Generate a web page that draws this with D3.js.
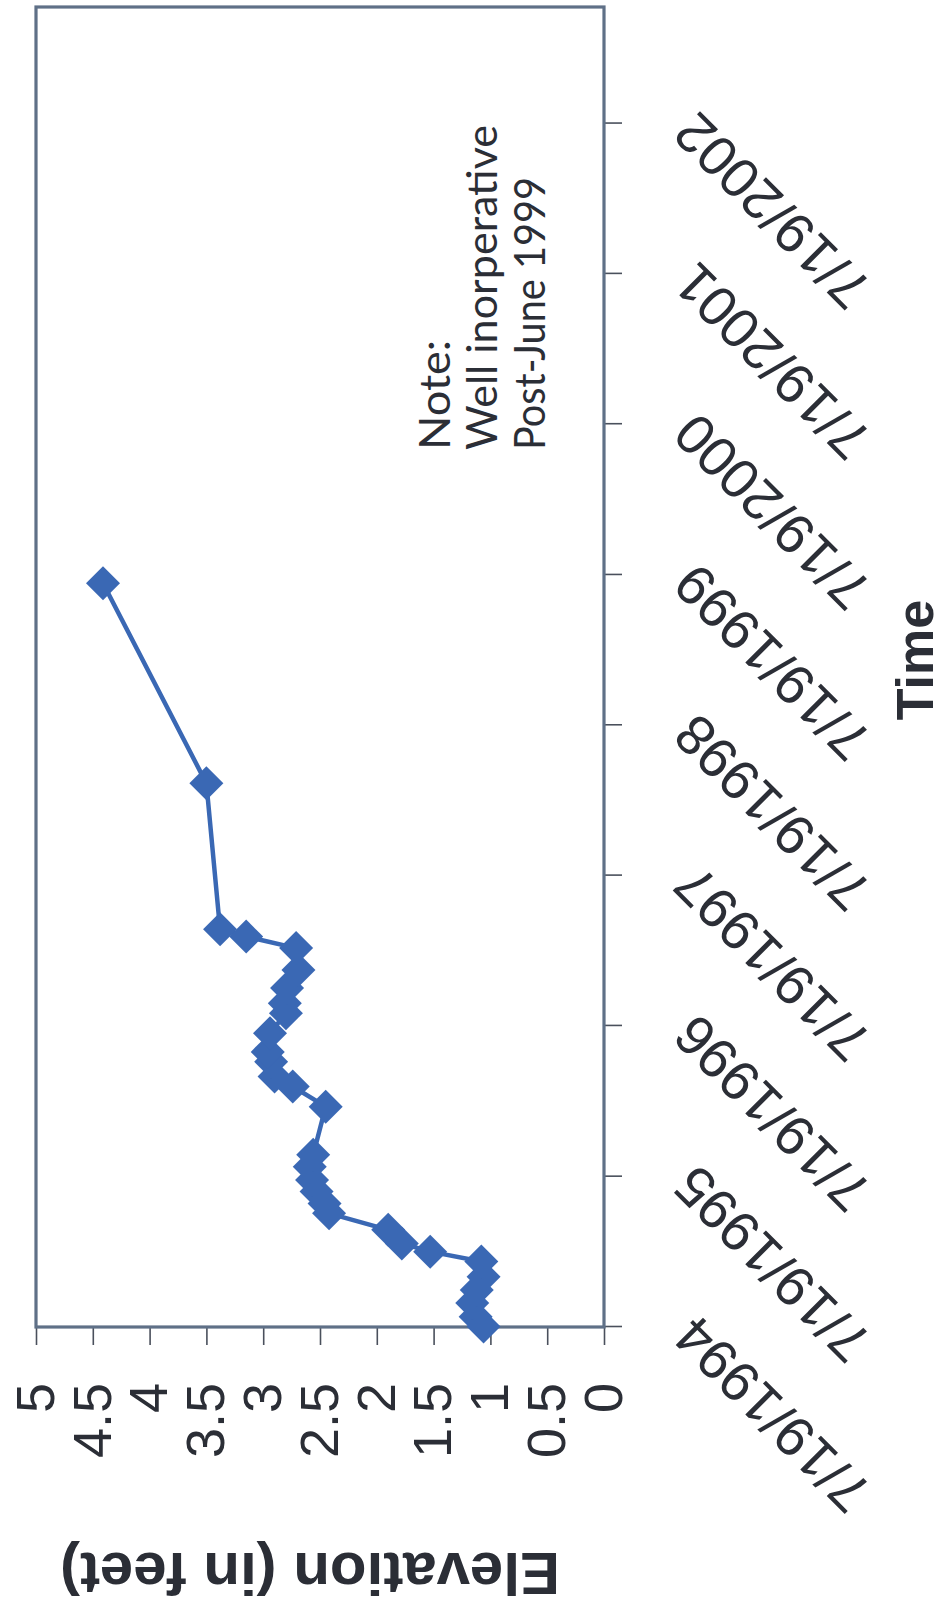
<!DOCTYPE html>
<html>
<head>
<meta charset="utf-8">
<script src="https://cdn.jsdelivr.net/npm/d3@7"></script>
<style>
  body { margin: 0; background: #ffffff; }
  svg { display: block; }
</style>
</head>
<body>
<svg id="chart" width="944" height="1610"></svg>
<script>
// ---------------- data ----------------
const sampleDates = [
  "1994-07-20", "1994-08-13", "1994-09-15", "1994-10-17", "1994-11-18",
  "1994-12-25", "1995-01-18", "1995-02-07", "1995-03-12", "1995-04-21",
  "1995-05-15", "1995-06-13", "1995-07-11", "1995-08-12", "1995-09-10",
  "1996-01-05", "1996-02-23", "1996-03-18", "1996-04-23", "1996-05-17",
  "1996-07-01", "1996-08-19", "1996-09-12", "1996-10-19", "1996-12-02",
  "1997-01-24", "1997-02-21", "1997-03-11", "1998-02-28", "1999-06-29"
];
const elevationFeet = [
  1.06, 1.13, 1.16, 1.12, 1.06,
  1.08, 1.53, 1.78, 1.90, 2.42,
  2.46, 2.53, 2.57, 2.59, 2.56,
  2.45, 2.74, 2.90, 2.93, 2.96,
  2.94, 2.80, 2.81, 2.79, 2.69,
  2.71, 3.15, 3.38, 3.50, 4.41
];
const timeTickDates = [
  "1994-07-19", "1995-07-19", "1996-07-19", "1997-07-19", "1998-07-19",
  "1999-07-19", "2000-07-19", "2001-07-19", "2002-07-19"
];
const timeTickLabels = [
  "7/19/1994", "7/19/1995", "7/19/1996", "7/19/1997", "7/19/1998",
  "7/19/1999", "7/19/2000", "7/19/2001", "7/19/2002"
];
const timeDomain = ["1994-07-19", "2003-04-28"];
const elevTicks = [0, 0.5, 1, 1.5, 2, 2.5, 3, 3.5, 4, 4.5, 5];
const elevTickLabels = ["0", "0.5", "1", "1.5", "2", "2.5", "3", "3.5", "4", "4.5", "5"];
const elevDomain = [0, 5];
const xTitle = "Time";
const yTitle = "Elevation (in feet)";
const noteLines = ["Note:", "Well inorperative", "Post-June 1999"];

// ---------------- chart ----------------
const svg = d3.select("#chart");
const parse = d3.utcParse("%Y-%m-%d");
const W = 1320, H = 568;           // unrotated plot size
const textColor = "#2b2e36";
const frameColor = "#5f7087";
const blue = "#3a68b4";
const sansFont = "'Liberation Sans', Arimo, Arial, Helvetica, sans-serif";

const data = sampleDates.map((d, i) => ({ date: parse(d), e: elevationFeet[i] }));

const x = d3.scaleUtc().domain(timeDomain.map(parse)).range([0, W]);
const y = d3.scaleLinear().domain(elevDomain).range([H, 0]);

// whole chart is drawn rotated 90° counter-clockwise
const g = svg.append("g").attr("transform", "translate(36,1327) rotate(-90)");

// time axis (appears at right side)
const xAxis = d3.axisBottom(x)
  .tickValues(timeTickDates.map(parse))
  .tickFormat((d, i) => timeTickLabels[i])
  .tickSize(18)
  .tickSizeOuter(0);
const gx = g.append("g").attr("transform", `translate(0,${H})`).call(xAxis);
gx.select(".domain").remove();
gx.selectAll(".tick line").attr("stroke", "#4a505c").attr("stroke-width", 1.6);
gx.selectAll(".tick text")
  .attr("x", 0).attr("y", 0).attr("dy", "0.35em")
  .attr("text-anchor", "end")
  .attr("transform", "translate(0,80) rotate(-45)")
  .attr("fill", textColor)
  .style("font-family", sansFont)
  .style("font-size", "56px");

// elevation axis (appears at bottom)
const yAxis = d3.axisLeft(y)
  .tickValues(elevTicks)
  .tickFormat((d, i) => elevTickLabels[i])
  .tickSize(18)
  .tickSizeOuter(0)
  .tickPadding(38);
const gy = g.append("g").call(yAxis);
gy.select(".domain").remove();
gy.selectAll(".tick line").attr("stroke", "#4a505c").attr("stroke-width", 1.6);
gy.selectAll(".tick text")
  .attr("fill", textColor)
  .style("font-family", sansFont)
  .style("font-size", "54px");

// plot frame
g.append("rect")
  .attr("x", 0).attr("y", 0).attr("width", W).attr("height", H)
  .attr("fill", "none").attr("stroke", frameColor).attr("stroke-width", 3.2);

// series line
g.append("path")
  .datum(data)
  .attr("fill", "none")
  .attr("stroke", blue)
  .attr("stroke-width", 4.5)
  .attr("stroke-linejoin", "round")
  .attr("d", d3.line().x(d => x(d.date)).y(d => y(d.e)));

// diamond markers
g.selectAll("path.marker")
  .data(data)
  .join("path")
  .attr("class", "marker")
  .attr("d", "M0,-17L17,0L0,17L-17,0Z")
  .attr("transform", d => `translate(${x(d.date)},${y(d.e)})`)
  .attr("fill", blue);

// axis titles
svg.append("text")
  .attr("transform", "translate(310,1553) rotate(180)")
  .attr("text-anchor", "middle")
  .attr("fill", textColor)
  .style("font-family", sansFont)
  .style("font-weight", "bold")
  .style("font-size", "60px")
  .text(yTitle);

svg.append("text")
  .attr("transform", "translate(933,660) rotate(-90)")
  .attr("text-anchor", "middle")
  .attr("fill", textColor)
  .style("font-family", sansFont)
  .style("font-weight", "bold")
  .style("font-size", "52px")
  .text(xTitle);

// note
const noteBaselines = [450, 497, 545];
const noteLengths = [110, 325, 273];
noteLines.forEach((t, i) => {
  svg.append("text")
    .attr("transform", `translate(${noteBaselines[i]},450) rotate(-90)`)
    .attr("text-anchor", "start")
    .attr("fill", textColor)
    .attr("textLength", noteLengths[i])
    .attr("lengthAdjust", "spacingAndGlyphs")
    .style("font-family", "Lato, 'Open Sans', sans-serif")
    .style("font-size", "43px")
    .text(t);
});
</script>
</body>
</html>
